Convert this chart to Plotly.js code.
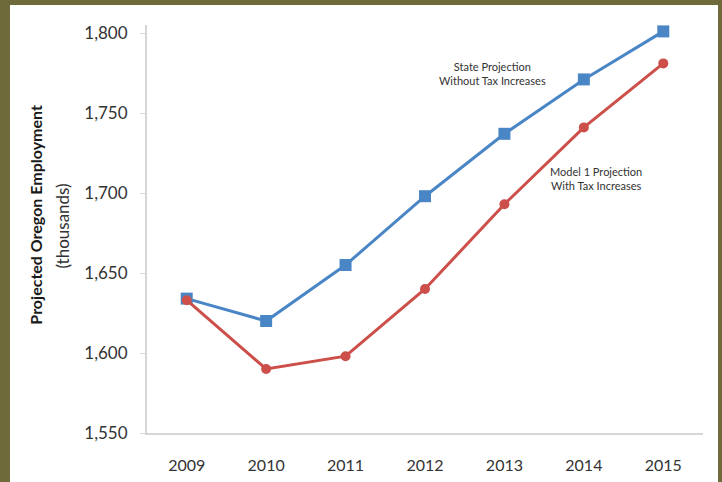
<!DOCTYPE html>
<html><head><meta charset="utf-8">
<script src="https://cdn.plot.ly/plotly-3.0.1.min.js"></script>
<style>
html,body{margin:0;padding:0;background:#6e6a3a;width:722px;height:482px;overflow:hidden;}
#chart{position:absolute;left:10px;top:5px;width:708px;height:477px;background:#fff;}
</style></head>
<body><div id="chart"></div>
<script>
const years = ['2009','2010','2011','2012','2013','2014','2015'];
const stateProjection = [1634, 1620, 1655, 1698, 1737, 1771, 1801];
const model1Projection = [1633, 1590, 1598, 1640, 1693, 1741, 1781];
const yTicks = [1550, 1600, 1650, 1700, 1750, 1800];
const yTickText = ['1,550', '1,600', '1,650', '1,700', '1,750', '1,800'];

const traces = [
  {x: years, y: stateProjection, type: 'scatter', mode: 'lines+markers',
   line: {color: '#4a86c6', width: 3}, marker: {symbol: 'square', size: 12, color: '#4a86c6'}},
  {x: years, y: model1Projection, type: 'scatter', mode: 'lines+markers',
   line: {color: '#cc4f4a', width: 3}, marker: {symbol: 'circle', size: 10, color: '#cc4f4a'}}
];
const fam = 'Lato, "Open Sans", sans-serif';
const layout = {
  width: 708, height: 477,
  margin: {l: 137, r: 15, t: 20, b: 49},
  paper_bgcolor: '#fff', plot_bgcolor: '#fff',
  showlegend: false,
  font: {family: fam, color: '#333'},
  xaxis: {type: 'category', range: [-0.5, 6.5], showgrid: false, zeroline: false,
    showline: true, linecolor: '#d6d6d6', linewidth: 2, ticks: '',
    tickfont: {size: 16, color: '#333', family: fam}, ticklabelstandoff: 17},
  yaxis: {range: [1550, 1805], tickvals: yTicks, ticktext: yTickText, showgrid: false, zeroline: false,
    showline: true, linecolor: '#d6d6d6', linewidth: 2, ticks: 'outside', ticklen: 5, tickcolor: '#d6d6d6',
    tickfont: {size: 17, color: '#333', family: fam}, ticklabelstandoff: 9},
  annotations: [
    {xref: 'paper', yref: 'paper', x: -0.2212, y: 0.534, textangle: -90, showarrow: false,
     text: '<b>Projected Oregon Employment</b>', font: {size: 16, color: '#1a1a1a', family: fam}},
    {xref: 'paper', yref: 'paper', x: -0.1745, y: 0.507, textangle: -90, showarrow: false,
     text: '(thousands)', font: {size: 17, color: '#333', family: fam}},
    {xref: 'x', yref: 'y', x: 4, y: 1775, xshift: -12, showarrow: false, align: 'center',
     text: 'State Projection<br>Without Tax Increases', font: {size: 11, color: '#333', family: fam}},
    {xref: 'x', yref: 'y', x: 5, y: 1709, xshift: 12, showarrow: false, align: 'center',
     text: 'Model 1 Projection<br>With Tax Increases', font: {size: 11, color: '#333', family: fam}}
  ]
};
Plotly.newPlot('chart', traces, layout, {displayModeBar: false, staticPlot: true});
</script></body></html>
